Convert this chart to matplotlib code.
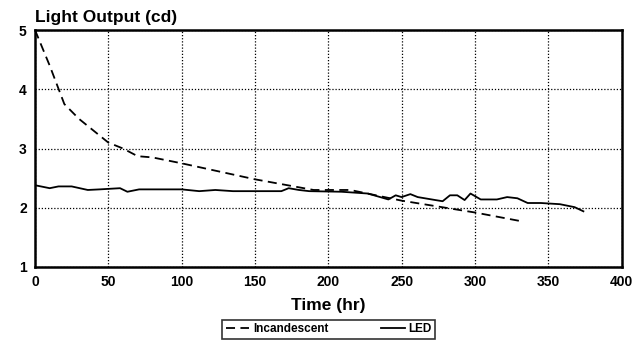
import matplotlib
matplotlib.use("Agg")
import matplotlib.pyplot as plt

plt.rcParams['font.family'] = ['Liberation Sans', 'DejaVu Sans']
plt.rcParams['font.weight'] = 'bold'

# Incandescent lamp, light output vs time
inc_hours = [0, 10, 20, 30, 40, 50, 60, 70, 80, 100, 150, 190, 215, 250, 300, 330]
inc_output = [5.0, 4.4, 3.75, 3.5, 3.3, 3.1, 3.0, 2.87, 2.85, 2.75, 2.48, 2.3, 2.3, 2.12, 1.92, 1.78]

# LED, light output vs time
led_hours = [0, 10, 16, 25, 36, 44, 58, 63, 71, 100, 112, 123, 135, 168, 173, 180,
             187, 209, 227, 241, 246, 250, 256, 261, 273, 278, 283, 288, 293, 297,
             304, 315, 322, 329, 336, 345, 358, 368, 374]
led_output = [2.38, 2.33, 2.36, 2.36, 2.30, 2.31, 2.33, 2.27, 2.31, 2.31, 2.28, 2.30,
              2.28, 2.28, 2.33, 2.30, 2.28, 2.27, 2.24, 2.14, 2.21, 2.18, 2.23, 2.18,
              2.13, 2.11, 2.21, 2.21, 2.13, 2.24, 2.14, 2.14, 2.18, 2.16, 2.08, 2.08,
              2.06, 2.01, 1.94]

x_ticks = [0, 50, 100, 150, 200, 250, 300, 350, 400]
y_ticks = [1, 2, 3, 4, 5]

fig = plt.figure(figsize=(6.32, 3.43), dpi=100)
ax = fig.add_axes([0.0554, 0.2216, 0.928, 0.6909])

ax.plot(inc_hours, inc_output, color='black', linestyle=(0, (5, 3)), linewidth=1.3,
        label='Incandescent')
ax.plot(led_hours, led_output, color='black', linestyle='-', linewidth=1.3, label='LED')

ax.set_xlim(0, 400)
ax.set_ylim(1, 5)
ax.set_xticks(x_ticks)
ax.set_yticks(y_ticks)
ax.tick_params(length=0, labelsize=10, pad=6)
for lbl in ax.get_xticklabels() + ax.get_yticklabels():
    lbl.set_fontweight('bold')

ax.grid(True, color='black', linestyle=(0, (1, 1.5)), linewidth=0.9)
for s in ax.spines.values():
    s.set_linewidth(1.8)

fig.text(0.0554, 0.927, 'Light Output (cd)', fontsize=12.5, fontweight='bold',
         ha='left', va='bottom')
ax.set_xlabel('Time (hr)', fontsize=12.5, fontweight='bold', labelpad=6)

leg = fig.legend(loc='center', bbox_to_anchor=(0.52, 0.04), ncol=2, fontsize=8.5,
                 frameon=True, fancybox=False, edgecolor='black', handlelength=2,
                 handletextpad=0.3, columnspacing=4.5, borderpad=0.3)
leg.get_frame().set_linewidth(1.2)

fig.savefig('out.png', dpi=100)
